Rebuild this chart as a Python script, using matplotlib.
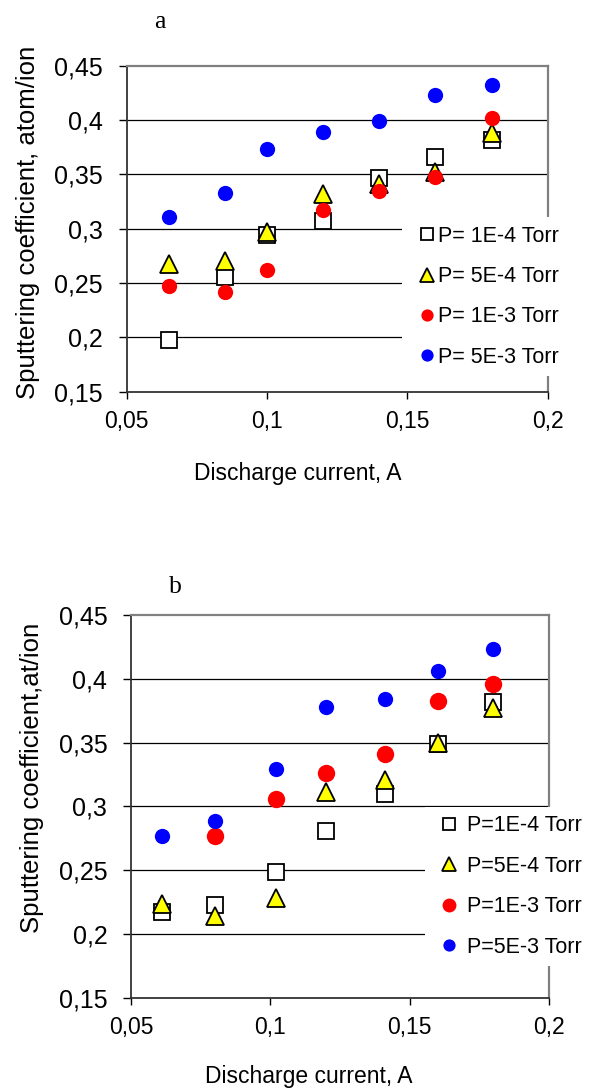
import numpy as np
import matplotlib.pyplot as plt

plt.rcParams['font.family'] = ['Liberation Sans', 'DejaVu Sans']

# panel a
cur_a = [0.065, 0.085, 0.1, 0.12, 0.14, 0.16, 0.18]
sq_a = [0.198, 0.256, 0.294, 0.307, 0.347, 0.366, 0.382]
tri_a = [0.268, 0.270, 0.297, 0.332, 0.341, 0.352, 0.388]
red_a = [0.247, 0.242, 0.262, 0.317, 0.335, 0.348, 0.402]
blue_a = [0.311, 0.333, 0.373, 0.389, 0.399, 0.423, 0.432]

# panel b
cur_b = [0.061, 0.08, 0.102, 0.12, 0.141, 0.16, 0.18]
sq_b = [0.217, 0.223, 0.249, 0.281, 0.310, 0.349, 0.382]
tri_b = [0.224, 0.214, 0.228, 0.311, 0.321, 0.350, 0.377]
cur_b_red = [0.08, 0.102, 0.12, 0.141, 0.16, 0.18]
red_b = [0.277, 0.306, 0.326, 0.341, 0.383, 0.396]
blue_b = [0.277, 0.289, 0.329, 0.378, 0.384, 0.406, 0.423]

labels_a = ['P= 1E-4 Torr', 'P= 5E-4 Torr', 'P= 1E-3 Torr', 'P= 5E-3 Torr']
labels_b = ['P=1E-4 Torr', 'P=5E-4 Torr', 'P=1E-3 Torr', 'P=5E-3 Torr']

yticks = [0.15, 0.2, 0.25, 0.3, 0.35, 0.4, 0.45]
ytick_labels = ['0,15', '0,2', '0,25', '0,3', '0,35', '0,4', '0,45']
xticks = [0.05, 0.1, 0.15, 0.2]
xtick_labels = ['0,05', '0,1', '0,15', '0,2']


def panel(ax, x, sq, tri, xr, red, blue, labels, ylab, ms_red, leg_anchor, hlen, hpad, xlab_pos):
    ax.plot(x, sq, 's', ms=11, mfc='white', mec='black', mew=1.3, ls='none', label=labels[0], zorder=3)
    ax.plot(x, tri, '^', ms=13, mfc='#FFFF00', mec='black', mew=1.3, ls='none', label=labels[1], zorder=4)
    ax.plot(xr, red, 'o', ms=ms_red, mfc='#FF0000', mec='none', ls='none', label=labels[2], zorder=5)
    ax.plot(x, blue, 'o', ms=11, mfc='#0000FF', mec='none', ls='none', label=labels[3], zorder=6)

    ax.set_xlim(0.05, 0.2)
    ax.set_ylim(0.15, 0.45)
    ax.set_xticks(xticks)
    ax.set_xticklabels(xtick_labels, fontsize=16.5)
    ax.set_yticks(yticks)
    ax.set_yticklabels(ytick_labels, fontsize=18)
    ax.tick_params(axis='y', direction='out', length=6, width=1, pad=11)
    ax.tick_params(axis='x', direction='out', length=5, width=1, pad=8)
    for v in yticks[1:-1]:
        ax.axhline(v, color='black', lw=0.9, zorder=1)
    for s in ['top', 'right']:
        ax.spines[s].set_color('#808080')
        ax.spines[s].set_linewidth(1.6)
    for s in ['left', 'bottom']:
        ax.spines[s].set_color('#333333')
        ax.spines[s].set_linewidth(1.3)

    ax.text(xlab_pos[0], xlab_pos[1], 'Discharge current, A', transform=ax.transAxes,
            ha='center', va='center', fontsize=16.5)
    ax.text(ylab[1], ylab[2], ylab[0], transform=ax.transAxes, rotation=90,
            ha='center', va='center', fontsize=18.5)

    leg = ax.legend(loc='upper left', bbox_to_anchor=leg_anchor, borderaxespad=0,
                    fontsize=15.5, frameon=True, fancybox=False, framealpha=1,
                    edgecolor='none', facecolor='white', markerscale=0.8,
                    handlelength=hlen, handletextpad=hpad, labelspacing=0.9,
                    borderpad=0.4)
    leg.set_zorder(10)


fig = plt.figure(figsize=(6, 10.9), dpi=100)

ax1 = fig.add_axes([0.211, 0.6406, 0.702, 0.299])
panel(ax1, cur_a, sq_a, tri_a, cur_a, red_a, blue_a, labels_a,
      ('Sputtering coefficient, atom/ion', -0.235, 0.52), 11,
      (0.653, 0.536), 1.6, -0.3, (0.407, -0.25))

ax2 = fig.add_axes([0.2183, 0.0844, 0.6967, 0.3514])
panel(ax2, cur_b, sq_b, tri_b, cur_b_red, red_b, blue_b, labels_b,
      ('Sputtering coefficient,at/ion', -0.236, 0.575), 12.5,
      (0.704, 0.499), 1.45, 0.1, (0.425, -0.205))

fig.text(160 / 600, 1 - 22 / 1090, 'a', family=['Liberation Serif', 'DejaVu Serif'],
         fontsize=18.5, ha='center', va='center')
fig.text(175 / 600, 1 - 587 / 1090, 'b', family=['Liberation Serif', 'DejaVu Serif'],
         fontsize=18.5, ha='center', va='center')

fig.savefig('out.png', dpi=100)
